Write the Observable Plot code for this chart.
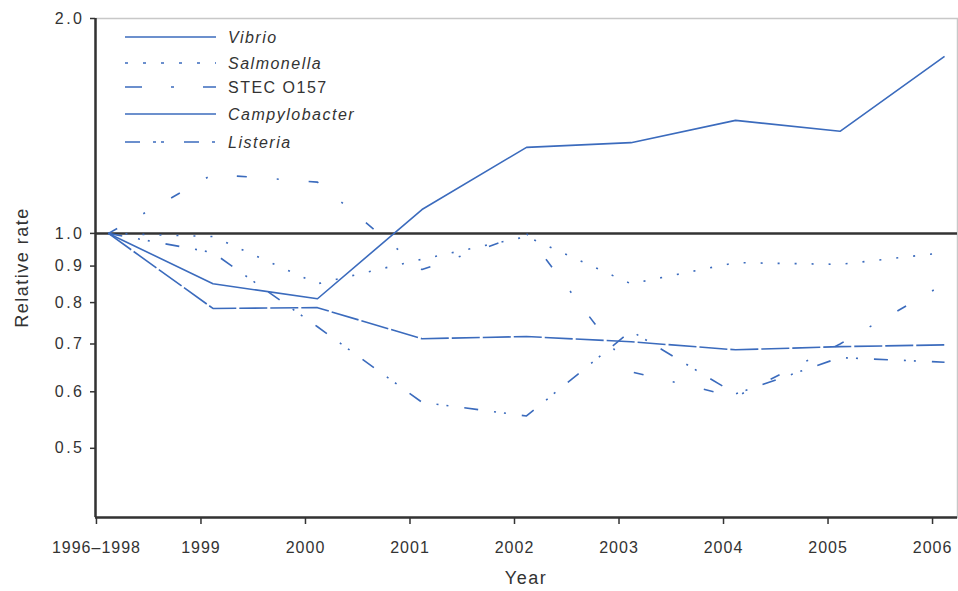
<!DOCTYPE html>
<html>
<head>
<meta charset="utf-8">
<script src="https://cdn.jsdelivr.net/npm/d3@7"></script>
<script src="https://cdn.jsdelivr.net/npm/@observablehq/plot@0.6"></script>
<style>
  html, body { margin: 0; padding: 0; background: #fff; }
  #chart svg { display: block; }
  #chart svg text { letter-spacing: 1px; }
  #chart [aria-label="y-axis tick label"] text { letter-spacing: 2.5px; }
</style>
</head>
<body>
<div id="chart"></div>
<script>
// Categories (x positions are the index of each period)
const xIndex = [0, 1, 2, 3, 4, 5, 6, 7, 8];
const xLabels = ["1996–1998", "1999", "2000", "2001", "2002", "2003", "2004", "2005", "2006"];

// Relative rates
const vibrio        = [1.00, 0.85, 0.81, 1.08, 1.32, 1.34, 1.44, 1.39, 1.77];
const salmonella    = [1.00, 0.99, 0.85, 0.92, 0.99, 0.85, 0.91, 0.905, 0.94];
const stecO157      = [1.00, 1.21, 1.18, 0.89, 1.00, 0.64, 0.59, 0.70, 0.85];
const campylobacter = [1.00, 0.785, 0.787, 0.712, 0.717, 0.705, 0.687, 0.694, 0.698];
const listeria      = [1.00, 0.94, 0.74, 0.58, 0.555, 0.73, 0.596, 0.67, 0.66];

const seriesNames = ["Vibrio", "Salmonella", "STEC O157", "Campylobacter", "Listeria"];
const seriesItalic = [true, true, false, true, true];
const yTicks = [0.5, 0.6, 0.7, 0.8, 0.9, 1.0, 2.0];

const seriesValues = [vibrio, salmonella, stecO157, campylobacter, listeria];
const dashes = [null, "2,15", "10,30,2,30", "28,3", "14,16,2,8,2,16"];
const legendDashes = [null, "3,15", "17,29,3,29", null, "15,13,3,5,3,20"];
const blue = "#3b6bbd";

const xDomain = [-0.124, 8.124];
const yDomain = [0.4, 2.0];

const data = seriesNames.flatMap((name, s) =>
  seriesValues[s].map((v, k) => ({name, i: xIndex[k], v})));

const lineMarks = seriesNames.map((name, s) =>
  Plot.line(data.filter(d => d.name === name), {
    x: "i", y: "v", stroke: blue, strokeWidth: 1.6,
    strokeDasharray: dashes[s], strokeLinejoin: "round", strokeLinecap: "butt"
  }));

const W = 958, H = 591, mT = 18, mB = 74, mL = 95, mR = 1;

const chart = Plot.plot({
  width: W, height: H,
  marginTop: mT, marginBottom: mB, marginLeft: mL, marginRight: mR,
  style: {fontFamily: "'Liberation Sans', Arial, sans-serif", fontSize: "16px", color: "#333", background: "#fff"},
  x: {domain: xDomain},
  y: {type: "log", domain: yDomain},
  marks: [
    Plot.frame({stroke: "#c8c8c8", strokeWidth: 1.5}),
    Plot.axisY({ticks: yTicks, tickFormat: d3.format(".1f"), tickSize: 5, tickPadding: 6,
                label: null, fontSize: 16, stroke: "#333", strokeWidth: 1.5}),
    Plot.axisX({ticks: xIndex, tickFormat: i => xLabels[i], tickSize: 7, tickPadding: 17,
                label: null, fontSize: 16, dx: -12, stroke: "#333", strokeWidth: 1.5}),
    Plot.ruleY([1], {stroke: "#333", strokeWidth: 2.5}),
    ...lineMarks,
    Plot.ruleX([xDomain[0]], {stroke: "#333", strokeWidth: 2.5}),
    Plot.ruleY([yDomain[0]], {stroke: "#333", strokeWidth: 2.5})
  ]
});

document.getElementById("chart").appendChild(chart);

const svg = d3.select(chart);
// Axis titles
svg.append("text")
  .attr("transform", `translate(22,${(mT + H - mB) / 2}) rotate(-90)`)
  .attr("text-anchor", "middle").attr("dominant-baseline", "central")
  .attr("fill", "#333").style("font-size", "18px").style("letter-spacing", "1.5px")
  .text("Relative rate");
svg.append("text")
  .attr("x", (mL + W - mR) / 2).attr("y", 578)
  .attr("text-anchor", "middle").attr("dominant-baseline", "central")
  .attr("fill", "#333").style("font-size", "18px").style("letter-spacing", "1.5px")
  .text("Year");

// Legend
const legendRows = [37, 63, 87, 114, 142];
const lg = svg.append("g");
seriesNames.forEach((name, s) => {
  lg.append("line")
    .attr("x1", 125).attr("x2", 216).attr("y1", legendRows[s]).attr("y2", legendRows[s])
    .attr("stroke", blue).attr("stroke-width", 1.6)
    .attr("stroke-dasharray", legendDashes[s]);
  lg.append("text")
    .attr("x", 228).attr("y", legendRows[s]).attr("dominant-baseline", "central")
    .attr("text-anchor", "start")
    .attr("fill", "#333").style("font-size", "16px").style("letter-spacing", "1.5px")
    .style("font-style", seriesItalic[s] ? "italic" : "normal")
    .text(name);
});
</script>
</body>
</html>
